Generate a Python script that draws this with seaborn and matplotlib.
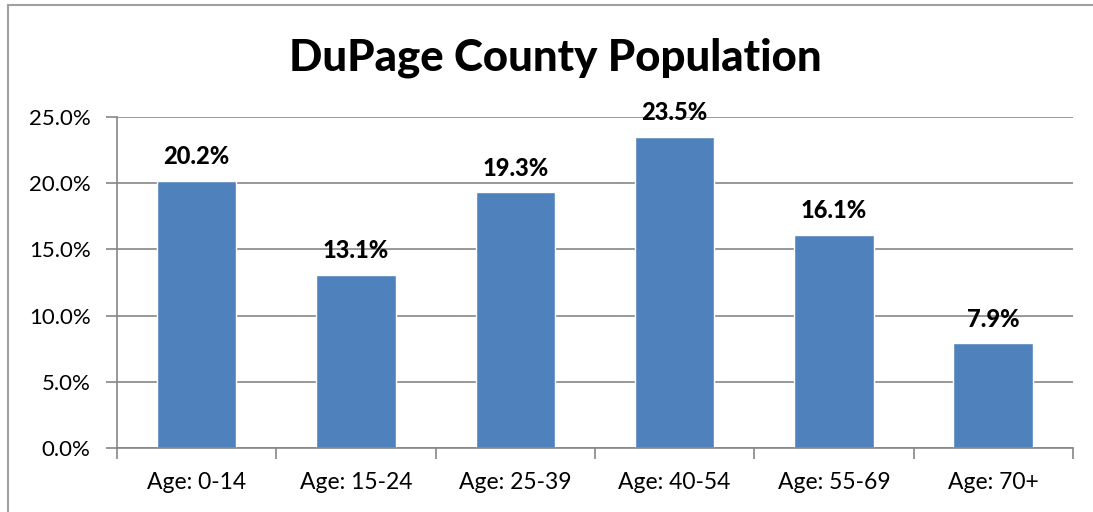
import matplotlib
matplotlib.use("Agg")
import matplotlib.pyplot as plt
import seaborn as sns
import pandas as pd
from matplotlib.lines import Line2D
from matplotlib.ticker import FuncFormatter

categories = ["Age: 0-14", "Age: 15-24", "Age: 25-39", "Age: 40-54", "Age: 55-69", "Age: 70+"]
values = [20.2, 13.1, 19.3, 23.5, 16.1, 7.9]
title = "DuPage County Population"

sns.set_style("white")
plt.rcParams['font.family'] = ['Lato', 'DejaVu Sans']
plt.rcParams['text.color'] = 'black'
plt.rcParams['xtick.labelcolor'] = 'black'
plt.rcParams['ytick.labelcolor'] = 'black'

df = pd.DataFrame({"cat": categories, "val": values})

fig = plt.figure(figsize=(10.93, 5.12), dpi=100)
ax = fig.add_axes([117/1093, 1-448/512, (1073-117)/1093, (448-117)/512])

sns.barplot(data=df, x="cat", y="val", color="#4F81BD", saturation=1, width=0.5, ax=ax)

grid_c = "#868686"
ax.set_ylim(0, 25)
ax.set_xlim(-0.5, len(categories) - 0.5)
ax.set_yticks([0, 5, 10, 15, 20, 25])
ax.yaxis.set_major_formatter(FuncFormatter(lambda v, p: f"{v:.1f}%"))
ax.yaxis.grid(True, color=grid_c, linewidth=1.2)
ax.set_axisbelow(True)

ax.set_xticks([i - 0.5 for i in range(len(categories) + 1)])
ax.set_xticklabels([])
ax.set_xticks(range(len(categories)), minor=True)
ax.set_xticklabels(categories, minor=True)
ax.tick_params(axis="x", which="major", direction="out", length=8, width=1.2, color=grid_c, bottom=True)
ax.tick_params(axis="x", which="minor", length=0, pad=17, labelsize=16.5, labelcolor="black")
ax.tick_params(axis="y", direction="out", length=8, width=1.2, color=grid_c, left=True, labelsize=16, pad=11, labelcolor="black")

for s in ["top", "right"]:
    ax.spines[s].set_visible(False)
for s in ["left", "bottom"]:
    ax.spines[s].set_color(grid_c)
    ax.spines[s].set_linewidth(1.2)

ax.set_xlabel("")
ax.set_ylabel("")

for c in ax.containers:
    ax.bar_label(c, labels=[f"{v:.1f}%" for v in values], padding=9, fontsize=17, fontweight="black", color="black")

fig.text(555/1093, 1-58/512, title, ha="center", va="center", fontsize=31.5, fontweight="black", color="black")

# outer chart border (top & left visible)
fig.add_artist(Line2D([8/1093, 1], [1-5/512, 1-5/512], transform=fig.transFigure, color="#a0a0a0", linewidth=1.5))
fig.add_artist(Line2D([8/1093, 8/1093], [0, 1-5/512], transform=fig.transFigure, color="#a0a0a0", linewidth=1.5))

fig.savefig("out.png", dpi=100)
